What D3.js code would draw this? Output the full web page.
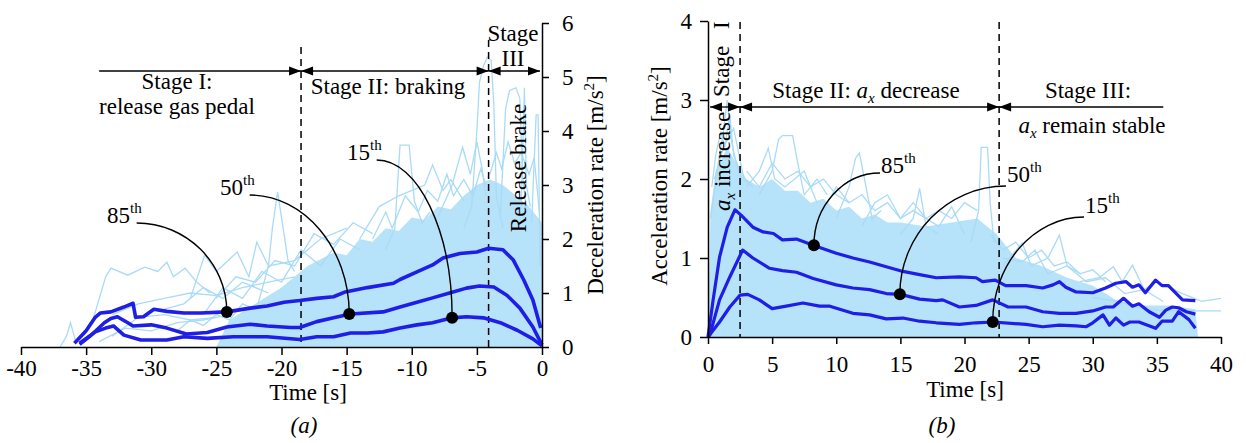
<!DOCTYPE html>
<html>
<head>
<meta charset="utf-8">
<script src="https://cdn.jsdelivr.net/npm/d3@7"></script>
<style>
body { margin: 0; background: #fff; }
</style>
</head>
<body>
<div id="chart"></div>
<script>
// ---- data: panel (a) deceleration before stop, t in s, value in m/s^2
const ticksXA = [-40, -35, -30, -25, -20, -15, -10, -5, 0];
const ticksYA = [0, 1, 2, 3, 4, 5, 6];
const stagesA = [-34, -18.5, -4.1, 0];   // stage boundaries (dashed at inner ones)

const p85A = [[-35.9,0.07],[-35.0,0.3],[-34.3,0.55],[-33.9,0.63],[-33.1,0.65],[-32.1,0.74],[-31.4,0.81],[-31.2,0.55],[-30.6,0.56],[-29.8,0.70],[-28.8,0.66],[-27.5,0.63],[-26.2,0.63],[-24.2,0.65],[-22.4,0.72],[-21.1,0.76],[-19.8,0.83],[-18.6,0.86],[-17.3,0.90],[-16.0,0.93],[-15.1,1.02],[-13.4,1.1],[-11.4,1.18],[-10.9,1.25],[-9.6,1.39],[-8.4,1.52],[-7.6,1.65],[-6.3,1.73],[-5.0,1.76],[-4.1,1.83],[-3.0,1.80],[-2.2,1.61],[-1.4,1.24],[-0.7,0.87],[-0.1,0.35]];
const p50A = [[-35.5,0.05],[-34.7,0.2],[-33.6,0.45],[-33.1,0.53],[-32.6,0.56],[-31.8,0.45],[-31.4,0.39],[-30.0,0.41],[-28.8,0.35],[-27.3,0.24],[-25.7,0.27],[-24.2,0.37],[-22.4,0.42],[-21.1,0.39],[-19.3,0.36],[-18.6,0.36],[-17.3,0.47],[-16.0,0.54],[-14.7,0.61],[-12.2,0.65],[-10.9,0.74],[-9.6,0.83],[-8.4,0.91],[-7.1,1.0],[-5.8,1.09],[-4.8,1.13],[-3.7,1.11],[-2.7,0.96],[-1.7,0.72],[-0.7,0.37],[0,0.04]];
const p15A = [[-35.5,0.07],[-34.3,0.28],[-33.5,0.35],[-32.9,0.39],[-32.1,0.22],[-30.8,0.13],[-28.8,0.13],[-27.5,0.19],[-25.7,0.16],[-23.7,0.19],[-21.1,0.19],[-18.6,0.14],[-17.3,0.19],[-16.0,0.19],[-14.7,0.26],[-13.4,0.26],[-12.2,0.28],[-10.9,0.35],[-9.6,0.41],[-8.4,0.45],[-6.9,0.54],[-5.8,0.56],[-4.5,0.54],[-3.2,0.45],[-1.9,0.31],[-0.7,0.15],[0,0.02]];

const cloudA = [[-25,0],[-24,0.5],[-22,0.8],[-20,1.1],[-19,1.3],[-18,1.5],[-16,1.75],[-15,1.7],[-14,2.0],[-13,1.95],[-12,2.2],[-11,2.15],[-10,2.4],[-9,2.35],[-8,2.6],[-7,2.55],[-6,2.8],[-5,3.0],[-4,3.1],[-3,3.0],[-2,2.8],[-1,2.6],[0,2.3],[0,0]];
const tracesA = [
  [[-6,2.2],[-5.4,2.6],[-5.0,4.0],[-4.8,4.9],[-4.5,5.2],[-4.2,5.37],[-3.9,5.3],[-3.7,4.5],[-3.5,2.8],[-3,2.2]],
  [[-3.2,2.4],[-2.8,4.4],[-2.5,4.75],[-2.0,4.8],[-1.7,4.6],[-1.5,3.2],[-1.2,2.5]],
  [[-1.6,2.6],[-1.35,4.8],[-1.2,3.0],[-0.9,2.6]],
  [[-0.8,2.3],[-0.45,4.3],[-0.3,4.3],[-0.15,1.5]],
  [[-12,1.8],[-11.3,2.2],[-10.9,3.74],[-10.2,3.74],[-9.8,2.7],[-9.2,2.3],[-8.6,2.5]],
  [[-21.8,0.8],[-21,1.5],[-20.7,2.2],[-20.3,2.87],[-20,2.4],[-19.5,1.6],[-19,1.4]],
  [[-34.6,0.4],[-33.5,1.3],[-33.1,1.46],[-31.8,1.33],[-30.5,1.48],[-29.5,1.4],[-28.8,1.57],[-28.3,1.3],[-27.4,1.46],[-26.5,1.2],[-25.5,1.0]],
  [[-27,0.9],[-25.9,1.7],[-25,1.4],[-23.4,1.76],[-22.5,1.3],[-21.9,1.94],[-21,1.5],[-19,1.6],[-17,2.0],[-15,2.2]],
  [[-8,2.4],[-6.9,3.0],[-6.1,3.7],[-5.5,3.2],[-5.0,3.8],[-4.6,3.3],[-4.3,2.8]],
  [[-14,2.0],[-12.5,2.6],[-11,2.8],[-9,3.0],[-8.4,3.37],[-7.6,2.9],[-7,3.1],[-6,2.7]],
  [[-37,0],[-36.5,0.2],[-36.2,0.45],[-35.8,0.1],[-35,0.3]],
  [[-33,0.6],[-31,0.8],[-29,0.9],[-27,1.0],[-25,0.95],[-23,1.1],[-21,1.2],[-19,1.3]],
  [[-13,2.0],[-12,2.5],[-11.5,2.2],[-10.5,2.8],[-9.5,2.5],[-8.8,2.9],[-8,2.7],[-7.3,3.2],[-6.8,2.8],[-6,3.1],[-5.3,2.8],[-4.7,3.3],[-4.3,3.0]],
  [[-4,3.2],[-3.5,3.6],[-3.1,3.3],[-2.6,3.8],[-2.1,3.4],[-1.6,3.6],[-1,3.2],[-0.6,3.5],[-0.2,2.5]],
  [[-34,0.1],[-32,0.35],[-30,0.3],[-28,0.45],[-26,0.5],[-24,0.6]],
  [[-33,0.2],[-31,0.55],[-29,0.6],[-27,0.5],[-25,0.55]],
  [[-26,0.6],[-24.5,1.1],[-23,0.9],[-21.5,1.4],[-20,1.2],[-18.5,1.8],[-17,1.5],[-15.5,2.0],[-14,1.8]],
  [[-25,0.9],[-23.5,1.3],[-22,1.2],[-20.5,1.6],[-19,1.5],[-17.5,2.1],[-16,1.9],[-14.5,2.3],[-13,2.1]],
  [[-29,0.7],[-27.5,0.8],[-26,1.1],[-24.5,0.9],[-23,1.2],[-21,1.0]],
  [[-28,0.3],[-27,0.5],[-26,0.4],[-25,0.6],[-24,0.5],[-23,0.8],[-22,0.7]]
];
const dotsA = [[-24.2,0.65],[-14.8,0.61],[-6.9,0.54]];

// ---- data: panel (b) acceleration after start, t in s
const ticksXB = [0, 5, 10, 15, 20, 25, 30, 35, 40];
const ticksYB = [0, 1, 2, 3, 4];
const stagesB = [0, 2.5, 22.7, 35.5];

const p85B = [[0,0],[0.4,0.47],[0.9,1.01],[1.5,1.39],[2.1,1.61],[2.6,1.54],[3.5,1.39],[4.3,1.33],[5.1,1.31],[5.8,1.23],[6.9,1.24],[8.2,1.16],[10.0,1.06],[11.3,1.0],[12.6,0.95],[13.9,0.89],[15.2,0.83],[16.5,0.79],[17.8,0.75],[19.6,0.76],[20.9,0.75],[21.4,0.70],[22.4,0.72],[23.2,0.65],[24.8,0.65],[26.1,0.62],[26.9,0.66],[27.4,0.70],[27.9,0.63],[28.7,0.57],[30.0,0.56],[31.0,0.62],[31.8,0.68],[32.6,0.70],[33.1,0.63],[33.6,0.66],[34.1,0.56],[34.9,0.72],[35.4,0.65],[35.9,0.65],[37.0,0.47],[38.0,0.46]];
const p50B = [[0,0],[0.15,0.03],[0.9,0.47],[1.7,0.76],[2.7,1.1],[3.5,1.0],[4.8,0.87],[5.8,0.84],[6.9,0.82],[8.2,0.74],[10,0.66],[11.3,0.62],[12.6,0.6],[13.9,0.55],[15.0,0.54],[16.5,0.48],[17.8,0.46],[18.3,0.47],[19.6,0.38],[20.9,0.40],[22.2,0.47],[23.4,0.38],[24.8,0.38],[26.1,0.32],[27.4,0.30],[28.7,0.30],[30.0,0.33],[31.0,0.38],[31.6,0.38],[32.4,0.49],[33.1,0.39],[33.6,0.42],[34.4,0.32],[35.2,0.25],[35.7,0.34],[36.2,0.38],[36.7,0.37],[37.3,0.32],[38.0,0.29]];
const p15B = [[0,0],[0.9,0.19],[1.7,0.38],[2.5,0.53],[3.1,0.54],[4.0,0.47],[5.0,0.36],[6.1,0.39],[7.4,0.43],[8.7,0.39],[9.5,0.39],[11.3,0.3],[12.6,0.28],[13.9,0.23],[15.2,0.24],[16.5,0.2],[17.8,0.18],[19.6,0.16],[20.9,0.18],[22.2,0.19],[24.8,0.16],[26.1,0.13],[27.4,0.15],[28.7,0.14],[29.5,0.13],[30.0,0.18],[30.8,0.28],[31.3,0.15],[31.8,0.24],[32.4,0.15],[32.9,0.19],[33.6,0.19],[34.9,0.11],[35.4,0.2],[36.2,0.2],[36.7,0.32],[37.5,0.22],[38.0,0.11]];

const cloudB = [[0,0],[0.2,1.6],[0.6,2.1],[1.5,2.4],[2.2,2.2],[3,2.0],[4,1.9],[5,2.0],[6,1.85],[7,1.85],[8,1.7],[9,1.75],[10,1.6],[11,1.65],[12,1.5],[13,1.55],[14,1.45],[15,1.45],[17,1.4],[19,1.45],[21,1.5],[22.5,1.3],[24,1.0],[26,0.9],[28,0.75],[30,0.65],[31,0.55],[32,0.45],[34,0.4],[36,0.4],[38,0.35],[38.2,0]];
const tracesB = [
  [[0.2,1.5],[0.8,2.2],[1.2,2.6],[1.5,3.0],[1.8,2.5],[2.2,2.2],[2.6,2.0]],
  [[0.5,2.0],[1.2,2.4],[2.0,2.64],[2.3,2.4],[2.8,2.0],[3.5,1.9]],
  [[4.0,1.8],[5.0,2.1],[5.5,2.5],[5.8,2.55],[6.6,2.55],[7.0,2.2],[7.5,1.8],[8.5,2.0],[9.3,1.8]],
  [[10,1.5],[11,1.9],[11.5,2.26],[11.8,2.33],[12.2,2.0],[12.8,1.5],[13.5,1.6]],
  [[15,1.3],[16,1.5],[16.5,1.88],[17,1.4],[18,1.3]],
  [[20.5,1.2],[21.1,1.6],[21.3,2.4],[21.8,2.4],[22.0,1.7],[22.3,1.2]],
  [[23,0.9],[24.5,1.19],[25.2,0.9],[26.5,1.0],[27.4,1.29],[28,0.9],[29,0.8]],
  [[29,0.7],[30.5,0.75],[31.6,0.89],[32.3,0.7],[33.1,0.91],[34,0.6],[35,0.7],[37,0.55],[38.5,0.45],[40,0.49]],
  [[30,0.5],[32,0.45],[34,0.35],[36,0.33],[38,0.33],[40,0.33]],
  [[3,1.9],[4,2.1],[4.7,2.39],[5.2,2.0],[6,1.9],[7.5,2.1],[8.5,1.7]],
  [[12,1.4],[13,1.7],[14,1.8],[15,1.5],[16,1.6],[18,1.4],[19,1.65],[20,1.3]],
  [[0.3,1.9],[0.6,2.3],[1.0,2.6],[1.3,2.4],[1.7,2.8],[2.0,2.3],[2.5,2.1]],
  [[3,2.1],[4,1.9],[5,2.2],[6,2.0],[7,2.1],[8,1.9],[9,2.0],[10,1.8],[11,1.7]],
  [[9,1.6],[10,1.9],[11,1.7],[12,1.8],[13,1.6],[14,1.7],[15,1.5],[16,1.7],[17,1.5],[18,1.6],[19,1.5],[20,1.7],[21,1.6]],
  [[22,1.3],[23,1.1],[24,1.2],[25,1.0],[26,1.1],[27,0.9],[28,0.95],[29,0.8],[30,0.85],[31,0.7]],
  [[23,1.0],[24.5,0.95],[25.5,1.1],[26.5,0.8],[28,0.9],[29.5,0.7],[31,0.75],[32.5,0.55],[34,0.6],[35.5,0.45]]
];
const dotsB = [[8.26,1.16],[14.96,0.54],[22.2,0.19]];

const pctLabels = ["85", "50", "15"];

// ---- style
const FONT = '"Liberation Serif", "Times New Roman", serif';
const FS = 23;
const BLUE = "#1e1ee6";
const LIGHT_FILL = "#b6e2fa";
const LIGHT_LINE = "#a9dbf6";

const svg = d3.select("#chart").append("svg")
  .attr("width", 1246).attr("height", 443)
  .style("font-family", FONT);

// small helpers
function arrowHead(g, x, y, dir) {
  // dir = -1 tip points left, +1 tip points right
  g.append("path")
    .attr("d", `M${x},${y} L${x - dir * 12},${y - 4.5} L${x - dir * 12},${y + 4.5} Z`)
    .attr("fill", "#000");
}
function stageArrow(g, x1, x2, y, headL, headR) {
  g.append("line").attr("x1", x1).attr("x2", x2).attr("y1", y).attr("y2", y)
    .attr("stroke", "#000").attr("stroke-width", 1.3);
  if (headL) arrowHead(g, x1, y, -1);
  if (headR) arrowHead(g, x2, y, 1);
}
function supLabel(g, x, y, main, sup, anchor) {
  const t = g.append("text").attr("x", x).attr("y", y)
    .attr("font-size", FS).attr("text-anchor", anchor || "start");
  t.append("tspan").text(main);
  t.append("tspan").attr("font-size", 15).attr("dy", -10).text(sup);
  return t;
}
function leader(g, sx, sy, dx, dy) {
  const k = 0.55;
  g.append("path")
    .attr("d", `M${sx},${sy} C${sx + k * (dx - sx)},${sy} ${dx},${dy - k * (dy - sy)} ${dx},${dy}`)
    .attr("fill", "none").attr("stroke", "#000").attr("stroke-width", 1.4);
}
function styleAxis(ax) {
  ax.attr("font-family", FONT);
  ax.select(".domain").attr("stroke", "#000").attr("stroke-width", 1.5);
  ax.selectAll(".tick line").attr("stroke", "#000").attr("stroke-width", 1.5);
  ax.selectAll(".tick text").attr("font-size", FS).attr("font-family", FONT).attr("fill", "#000");
}
function axText(t) { // a_x in italics with subscript
  t.append("tspan").attr("font-style", "italic").text("a");
  t.append("tspan").attr("font-style", "italic").attr("font-size", 15).attr("dy", 5).text("x");
}

// ================= panel (a) =================
const xA = d3.scaleLinear().domain([-40, 0]).range([21, 542]);
const yA = d3.scaleLinear().domain([0, 6]).range([347, 23]);
const gA = svg.append("g");

const areaA = d3.area().x(d => xA(d[0])).y0(yA(0)).y1(d => yA(d[1]));
const lineA = d3.line().x(d => xA(d[0])).y(d => yA(d[1]));

gA.append("path").datum(cloudA).attr("d", areaA).attr("fill", LIGHT_FILL);
gA.selectAll(".traceA").data(tracesA).enter().append("path")
  .attr("d", lineA).attr("fill", "none").attr("stroke", LIGHT_LINE).attr("stroke-width", 1.3);

// dashed stage borders
[stagesA[1], stagesA[2]].forEach((t, i) => {
  gA.append("line").attr("x1", xA(t)).attr("x2", xA(t))
    .attr("y1", i === 0 ? 47 : 40).attr("y2", yA(0))
    .attr("stroke", "#000").attr("stroke-width", 1.5).attr("stroke-dasharray", "7,5");
});

[p85A, p50A, p15A].forEach(s => {
  gA.append("path").datum(s).attr("d", lineA).attr("fill", "none")
    .attr("stroke", BLUE).attr("stroke-width", 3.6).attr("stroke-linejoin", "round");
});

const axXA = gA.append("g").attr("transform", `translate(0,${yA(0)})`)
  .call(d3.axisBottom(xA).tickValues(ticksXA).tickSize(8).tickPadding(5).tickSizeOuter(0).tickFormat(d => String(d)));
styleAxis(axXA);
const axYA = gA.append("g").attr("transform", `translate(${xA(0)},0)`)
  .call(d3.axisRight(yA).tickValues(ticksYA).tickSize(7).tickPadding(13).tickSizeOuter(0).tickFormat(d => String(d)));
styleAxis(axYA);

// stage arrows (a)
const arrYA = 71;
stageArrow(gA, xA(stagesA[0]), xA(stagesA[1]), arrYA, false, true);
stageArrow(gA, xA(stagesA[1]), xA(stagesA[2]), arrYA, true, true);
stageArrow(gA, xA(stagesA[2]), xA(stagesA[3]) - 2, arrYA, true, true);

gA.append("text").attr("x", 177).attr("y", 89).attr("text-anchor", "middle").attr("font-size", FS).text("Stage I:");
gA.append("text").attr("x", 177).attr("y", 114).attr("text-anchor", "middle").attr("font-size", FS).text("release gas pedal");
gA.append("text").attr("x", 388).attr("y", 94).attr("text-anchor", "middle").attr("font-size", FS).text("Stage II: braking");
gA.append("text").attr("x", 513).attr("y", 41).attr("text-anchor", "middle").attr("font-size", FS).text("Stage");
gA.append("text").attr("x", 513).attr("y", 66).attr("text-anchor", "middle").attr("font-size", FS).text("III");
gA.append("text").attr("transform", "translate(526,168) rotate(-90)")
  .attr("text-anchor", "middle").attr("font-size", FS).text("Release brake");

const ylabA = gA.append("text").attr("transform", "translate(603,185) rotate(-90)")
  .attr("text-anchor", "middle").attr("font-size", FS);
ylabA.append("tspan").text("Deceleration rate [m/s");
ylabA.append("tspan").attr("font-size", 15).attr("dy", -9).text("2");
ylabA.append("tspan").attr("dy", 9).text("]");

gA.append("text").attr("x", 308).attr("y", 400).attr("text-anchor", "middle").attr("font-size", FS).text("Time [s]");
gA.append("text").attr("x", 304).attr("y", 433).attr("text-anchor", "middle").attr("font-size", FS)
  .attr("font-style", "italic").text("(a)");

// percentile annotations (a)
const labPosA = [[107, 223], [220, 195], [347, 160]];
dotsA.forEach((d, i) => {
  const [lx, ly] = labPosA[i];
  const t = supLabel(gA, lx, ly, pctLabels[i], "th");
  const w = t.node().getComputedTextLength();
  leader(gA, lx + w - 5, ly, xA(d[0]), yA(d[1]));
  gA.append("circle").attr("cx", xA(d[0])).attr("cy", yA(d[1])).attr("r", 6).attr("fill", "#000");
});

// ================= panel (b) =================
const xB = d3.scaleLinear().domain([0, 40]).range([708, 1221]);
const yB = d3.scaleLinear().domain([0, 4]).range([337, 21]);
const gB = svg.append("g");

const areaB = d3.area().x(d => xB(d[0])).y0(yB(0)).y1(d => yB(d[1]));
const lineB = d3.line().x(d => xB(d[0])).y(d => yB(d[1]));

gB.append("path").datum(cloudB).attr("d", areaB).attr("fill", LIGHT_FILL);
gB.selectAll(".traceB").data(tracesB).enter().append("path")
  .attr("d", lineB).attr("fill", "none").attr("stroke", LIGHT_LINE).attr("stroke-width", 1.3);

[stagesB[1], stagesB[2]].forEach(t => {
  gB.append("line").attr("x1", xB(t)).attr("x2", xB(t))
    .attr("y1", 22).attr("y2", yB(0))
    .attr("stroke", "#000").attr("stroke-width", 1.5).attr("stroke-dasharray", "7,5");
});

[p85B, p50B, p15B].forEach(s => {
  gB.append("path").datum(s).attr("d", lineB).attr("fill", "none")
    .attr("stroke", BLUE).attr("stroke-width", 3.2).attr("stroke-linejoin", "round");
});

const axXB = gB.append("g").attr("transform", `translate(0,${yB(0)})`)
  .call(d3.axisBottom(xB).tickValues(ticksXB).tickSize(7).tickPadding(12).tickSizeOuter(0).tickFormat(d => String(d)));
styleAxis(axXB);
const axYB = gB.append("g").attr("transform", `translate(${xB(0)},0)`)
  .call(d3.axisLeft(yB).tickValues(ticksYB).tickSize(8).tickPadding(8).tickSizeOuter(0).tickFormat(d => String(d)));
styleAxis(axYB);

// stage arrows (b)
const arrYB = 107;
stageArrow(gB, xB(stagesB[0]) + 2, xB(stagesB[1]), arrYB, true, true);
stageArrow(gB, xB(stagesB[1]), xB(stagesB[2]), arrYB, true, true);
stageArrow(gB, xB(stagesB[2]), xB(stagesB[3]), arrYB, true, false);

gB.append("text").attr("transform", "translate(729,97) rotate(-90)").attr("font-size", FS).text("Stage");
gB.append("text").attr("transform", "translate(729,29) rotate(-90)").attr("font-size", FS).text("I");
const incT = gB.append("text").attr("transform", "translate(730,211) rotate(-90)").attr("font-size", FS);
axText(incT);
incT.append("tspan").attr("dy", -5).text(" increase");

const st2 = gB.append("text").attr("x", 866).attr("y", 98).attr("text-anchor", "middle").attr("font-size", FS);
st2.append("tspan").text("Stage II: ");
axText(st2);
st2.append("tspan").attr("dy", -5).text(" decrease");

gB.append("text").attr("x", 1088).attr("y", 98).attr("text-anchor", "middle").attr("font-size", FS).text("Stage III:");
const st3 = gB.append("text").attr("x", 1092).attr("y", 133).attr("text-anchor", "middle").attr("font-size", FS);
axText(st3);
st3.append("tspan").attr("dy", -5).text(" remain stable");

const ylabB = gB.append("text").attr("transform", "translate(667,176) rotate(-90)")
  .attr("text-anchor", "middle").attr("font-size", FS);
ylabB.append("tspan").text("Acceleration rate [m/s");
ylabB.append("tspan").attr("font-size", 15).attr("dy", -9).text("2");
ylabB.append("tspan").attr("dy", 9).text("]");

gB.append("text").attr("x", 965).attr("y", 397).attr("text-anchor", "middle").attr("font-size", FS).text("Time [s]");
gB.append("text").attr("x", 942).attr("y", 433).attr("text-anchor", "middle").attr("font-size", FS)
  .attr("font-style", "italic").text("(b)");

// percentile annotations (b)
const labPosB = [[881, 173], [1007, 182], [1085, 213]];
dotsB.forEach((d, i) => {
  const [lx, ly] = labPosB[i];
  supLabel(gB, lx, ly, pctLabels[i], "th");
  leader(gB, lx - 1, ly + (i === 0 ? 0 : 4), xB(d[0]), yB(d[1]));
  gB.append("circle").attr("cx", xB(d[0])).attr("cy", yB(d[1])).attr("r", 6).attr("fill", "#000");
});
</script>
</body>
</html>
